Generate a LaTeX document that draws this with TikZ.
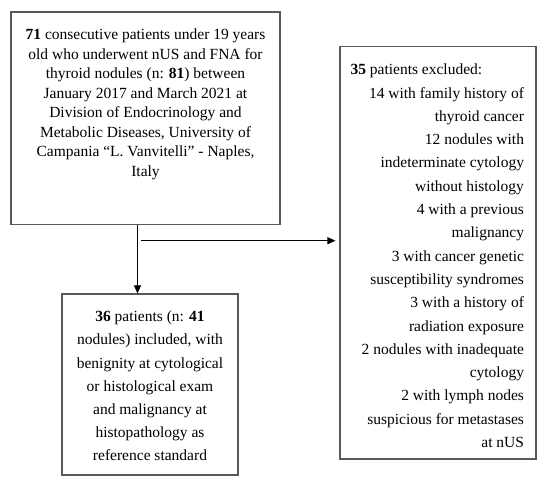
\documentclass[tikz,border=0pt]{standalone}
\usepackage{fontspec}
\setmainfont{Liberation Serif}
\usetikzlibrary{arrows.meta,positioning}

\begin{document}
\begin{tikzpicture}[x=1pt,y=-1pt,
    box/.style={draw=black!65, line width=1.1pt, inner sep=0pt},
    flow/.style={-{Triangle[length=8pt,width=7pt]}, line width=1.1pt}]
    \useasboundingbox (0,0) rectangle (550,486);
    % text sits near the top of each box, so each box holds a fixed parbox
    \node[box] at (145.5, 118.25) (cohort)
        {\parbox[c][212.5pt][t]{269pt}{\centering\fontsize{15.5}{19.5}\selectfont
        \vspace*{17pt}
        \textbf{71} consecutive patients under 19 years\\
        old who underwent nUS and FNA for\\
        thyroid nodules (n: \textbf{81}) between\\
        January 2017 and March 2021 at\\
        Division of Endocrinology and\\
        Metabolic Diseases, University of\\
        Campania “L. Vanvitelli” - Naples,\\
        Italy}};
    \node[box] at (150, 384.5) (included)
        {\parbox[c][181pt][t]{176pt}{\centering\fontsize{15.5}{23.2}\selectfont
        \vspace*{17pt}
        \textbf{36} patients (n: \textbf{41}\\
        nodules) included, with\\
        benignity at cytological\\
        or histological exam\\
        and malignancy at\\
        histopathology as\\
        reference standard}};
    \node[box] at (438, 252.75) (excluded)
        {\parbox[c][412.5pt][t]{196pt}{\raggedleft\rightskip=12pt\fontsize{15.5}{23.3}\selectfont
        \vspace*{17.5pt}
        \hspace*{10.5pt}\textbf{35} patients excluded:\hfill\mbox{}\\
        14 with family history of\\
        thyroid cancer\\
        12 nodules with\\
        indeterminate cytology\\
        without histology\\
        4 with a previous\\
        malignancy\\
        3 with cancer genetic\\
        susceptibility syndromes\\
        3 with a history of\\
        radiation exposure\\
        2 nodules with inadequate\\
        cytology\\
        2 with lymph nodes\\
        suspicious for metastases\\
        at nUS}};
    \coordinate (split) at (137.5, 0);
    \coordinate (branch) at (141, 240.7);
    \draw[flow] (cohort.south -| split) -- (included.north -| split);
    \draw[flow, shorten >=4pt] (branch) -- (excluded.west |- branch);
\end{tikzpicture}
\end{document}
